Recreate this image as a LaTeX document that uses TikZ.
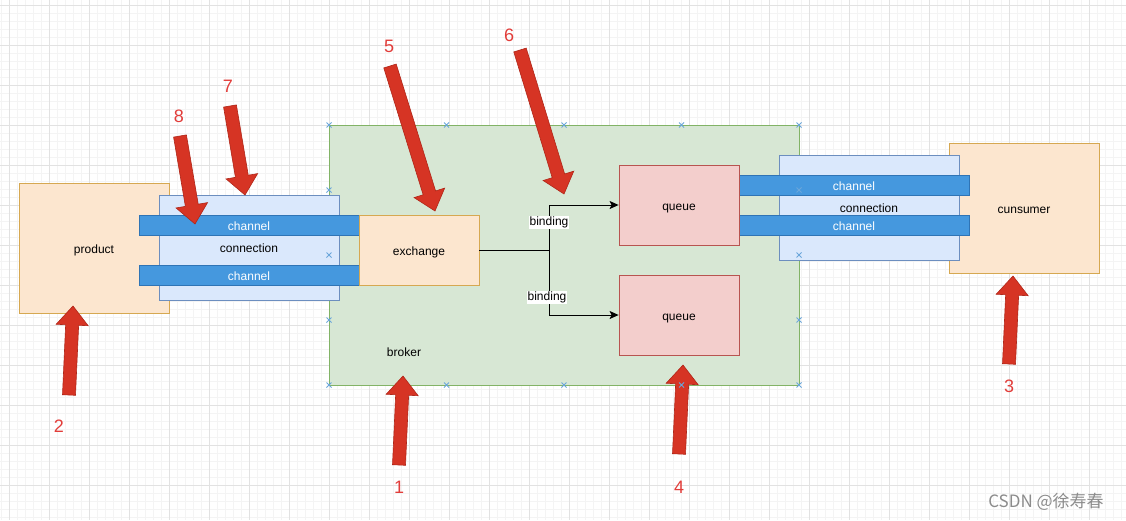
\documentclass[tikz,border=0pt]{standalone}
\usepackage{fontspec}
\setmainfont{Liberation Sans}
\newfontfamily\cjkwm{Noto Sans CJK SC}
\usetikzlibrary{calc,arrows.meta}
\definecolor{orfill}{HTML}{FCE6CF}
\definecolor{ordraw}{HTML}{D6A851}
\definecolor{blfill}{HTML}{DAE8FC}
\definecolor{bldraw}{HTML}{6C8EBF}
\definecolor{grfill}{HTML}{D7E7D4}
\definecolor{grdraw}{HTML}{82B366}
\definecolor{rdfill}{HTML}{F3CECC}
\definecolor{rddraw}{HTML}{B85450}
\definecolor{chfill}{HTML}{4598DE}
\definecolor{chdraw}{HTML}{2F74B5}
\definecolor{arrfill}{HTML}{D63424}
\definecolor{arrdraw}{HTML}{B02618}
\definecolor{numcol}{HTML}{E23D3A}
\definecolor{gridminor}{HTML}{F4F4F4}
\definecolor{gridmajor}{HTML}{E2E2E2}
\definecolor{xmarkcol}{HTML}{6AA6DA}
\newcommand\bigarrow[2]{%
  \coordinate (hb) at ($(#2)!19pt!(#1)$);
  \draw[redarr] ($(#1)!6.5pt!90:(#2)$) -- ($(hb)!6.5pt!-90:(#1)$) -- ($(hb)!16pt!-90:(#1)$) -- (#2)
     -- ($(hb)!16pt!90:(#1)$) -- ($(hb)!6.5pt!90:(#1)$) -- ($(#1)!6.5pt!-90:(#2)$) -- cycle;}
\begin{document}
\begin{tikzpicture}[x=1pt,y=-1pt,
  box/.style={draw, line width=0.8pt, inner sep=0pt, text height=10pt, text depth=0pt, font=\fontsize{12}{14}\selectfont},
  orbox/.style={box, fill=orfill, draw=ordraw},
  blbox/.style={box, fill=blfill, draw=bldraw},
  grbox/.style={box, fill=grfill, draw=grdraw},
  rdbox/.style={box, fill=rdfill, draw=rddraw},
  chbox/.style={box, fill=chfill, draw=chdraw, text=white, minimum height=20pt},
  txt/.style={inner sep=0pt, text height=10pt, text depth=0pt, font=\fontsize{12}{14}\selectfont},
  lbl/.style={fill=white, inner sep=1pt, text height=8.5pt, text depth=2.5pt, font=\fontsize{12}{14}\selectfont},
  num/.style={inner sep=0pt, text=numcol, font=\fontsize{18}{20}\selectfont},
  conn/.style={draw=black, line width=1pt, -{Stealth[length=9pt,width=8pt,inset=2pt]}},
  redarr/.style={fill=arrfill, draw=arrdraw, line width=0.6pt, line join=miter},
  xmark/.style={draw=xmarkcol, line width=0.8pt},
  gmin/.style={draw=gridminor, line width=0.6pt},
  gmaj/.style={draw=gridmajor, line width=0.8pt}]
\useasboundingbox (0,0) rectangle (1126,520);
\fill[white] (0,0) rectangle (1126,520);
% grid
\foreach \x in {1,9,...,1125} \draw[gmin] (\x,0) -- (\x,520);
\foreach \y in {5,13,...,520} \draw[gmin] (0,\y) -- (1126,\y);
\foreach \x in {9,49,...,1125} \draw[gmaj] (\x,0) -- (\x,520);
\foreach \y in {5,45,...,520} \draw[gmaj] (0,\y) -- (1126,\y);
% boxes
\node[orbox, minimum width=150pt, minimum height=130pt] (product) at (94,248) {product};
\node[orbox, minimum width=150pt, minimum height=130pt] (cunsumer) at (1024,208) {cunsumer};
\node[grbox, minimum width=470pt, minimum height=260pt] (broker) at (564,255) {};
\node[txt] (brokerlbl) at (404,351) {broker};
\node[blbox, minimum width=180pt, minimum height=105pt] (connL) at (249,247.5) {connection};
\node[blbox, minimum width=180pt, minimum height=105pt] (connR) at (869,207.5) {connection};
\node[chbox, minimum width=220pt] (chL1) at (249,225) {channel};
\node[chbox, minimum width=220pt] (chL2) at (249,275) {channel};
\node[chbox, minimum width=230pt] (chR1) at (854,185) {channel};
\node[chbox, minimum width=230pt] (chR2) at (854,225) {channel};
\node[orbox, minimum width=120pt, minimum height=70pt] (exchange) at (419,250) {exchange};
\node[rdbox, minimum width=120pt, minimum height=80pt] (q1) at (679,205) {queue};
\node[rdbox, minimum width=120pt, minimum height=80pt] (q2) at (679,315) {queue};
% connectors
\draw[conn] (exchange.east) -- ++(70,0) coordinate (split) |- (q1.west);
\draw[conn] (split) |- (q2.west);
\node[lbl] (b1) at (549,222) {binding};
\node[lbl] (b2) at (547,297) {binding};
% red annotation arrows
\coordinate (t1) at (399,465); \coordinate (p1) at (403,376);
\coordinate (t2) at (69,395);  \coordinate (p2) at (73,306);
\coordinate (t3) at (1009,364); \coordinate (p3) at (1013,276);
\coordinate (t4) at (679,454); \coordinate (p4) at (683,365);
\coordinate (t5) at (390,66);  \coordinate (p5) at (435,211);
\coordinate (t6) at (520,50);  \coordinate (p6) at (564,194);
\coordinate (t7) at (230,106); \coordinate (p7) at (245,195);
\coordinate (t8) at (180,136); \coordinate (p8) at (195,224);
\bigarrow{t1}{p1}
\bigarrow{t2}{p2}
\bigarrow{t3}{p3}
\bigarrow{t4}{p4}
\bigarrow{t5}{p5}
\bigarrow{t6}{p6}
\bigarrow{t7}{p7}
\bigarrow{t8}{p8}
% connection point marks on broker
\foreach \x in {329,446.5,564,681.5,799} {
  \foreach \y in {125,385} {
    \draw[xmark] (\x-2.5,\y-2.5) -- (\x+2.5,\y+2.5) (\x-2.5,\y+2.5) -- (\x+2.5,\y-2.5);}}
\foreach \y in {190,255,320} {
  \foreach \x in {329,799} {
    \draw[xmark] (\x-2.5,\y-2.5) -- (\x+2.5,\y+2.5) (\x-2.5,\y+2.5) -- (\x+2.5,\y-2.5);}}
% numbers
\node[num] (n1) at (399,487) {1};
\node[num] (n2) at (59,426) {2};
\node[num] (n3) at (1009,386) {3};
\node[num] (n4) at (679,487) {4};
\node[num] (n5) at (389,46) {5};
\node[num] (n6) at (509,35) {6};
\node[num] (n7) at (228,86) {7};
\node[num] (n8) at (179,116) {8};
% watermark
\node[inner sep=0pt, text=black!45, font=\cjkwm\fontsize{17}{20}\selectfont] (wm) at (1046,502) {CSDN @徐寿春};
\end{tikzpicture}
\end{document}
